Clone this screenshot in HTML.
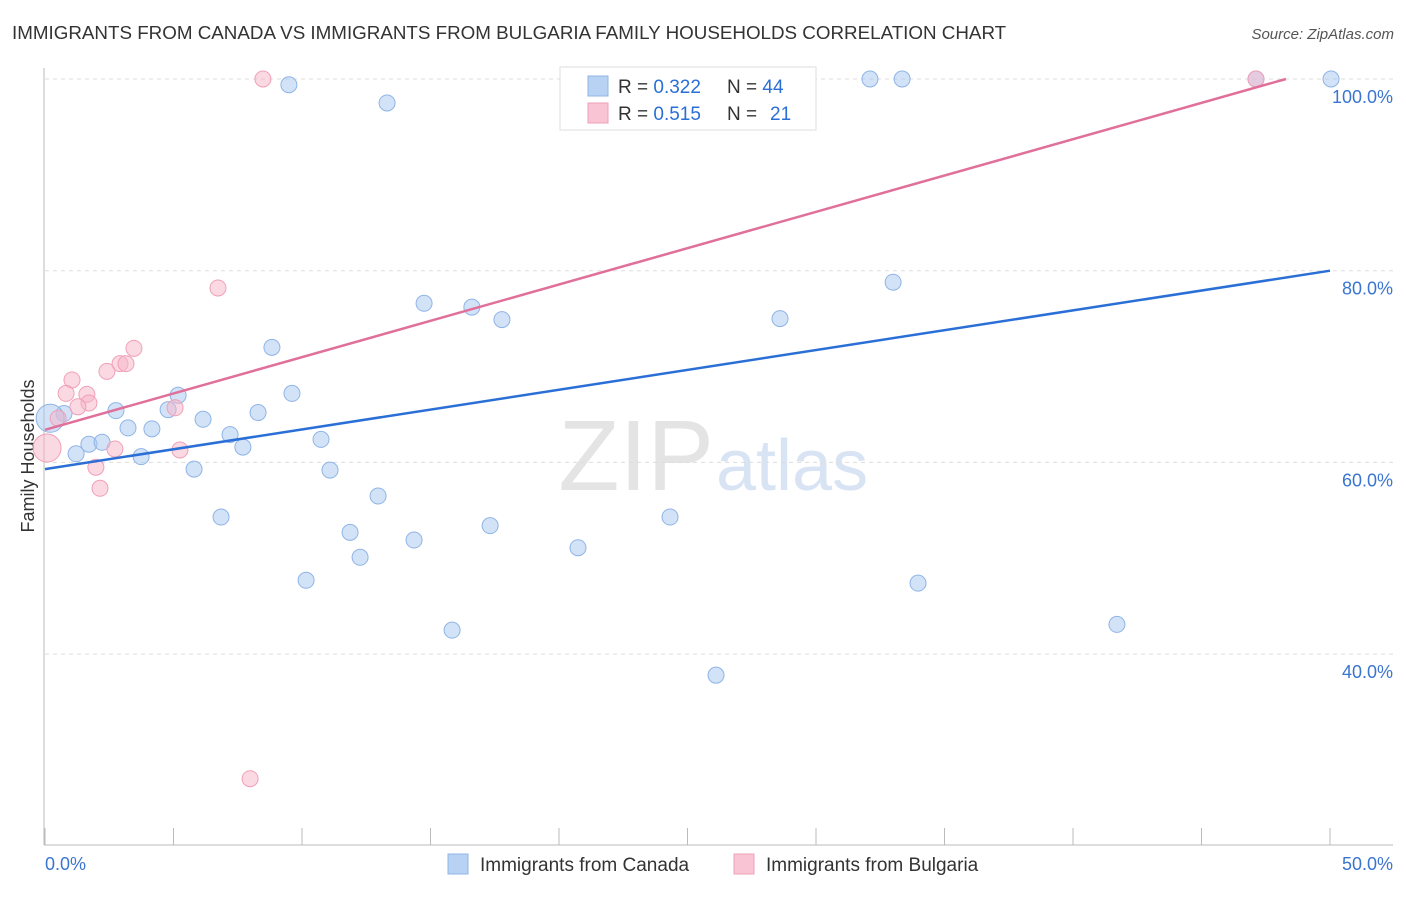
<!DOCTYPE html>
<html><head><meta charset="utf-8"><style>
body{margin:0;background:#fff;font-family:"Liberation Sans",sans-serif}
svg text{font-family:"Liberation Sans",sans-serif}
</style></head><body>
<svg id="c" width="1406" height="892" xmlns="http://www.w3.org/2000/svg">
<text x="12" y="39" font-size="18.8" fill="#333">IMMIGRANTS FROM CANADA VS IMMIGRANTS FROM BULGARIA FAMILY HOUSEHOLDS CORRELATION CHART</text>
<text x="1394" y="39" font-size="15" fill="#555" font-style="italic" text-anchor="end">Source: ZipAtlas.com</text>
<text x="714" y="490" font-size="100" fill="#e4e4e4" text-anchor="end" font-family="Liberation Serif">ZIP</text>
<text x="716" y="490" font-size="72" fill="#d8e4f4">atlas</text>
<text transform="translate(34,456) rotate(-90)" font-size="18" fill="#333" text-anchor="middle">Family Households</text>
<g id="grid"></g><g id="pts"></g><g id="lines"></g>
<g>
<rect x="560" y="67" width="256" height="63" fill="#fff" stroke="#ddd"/>
<rect x="588" y="76" width="20" height="20" fill="#b8d2f4" stroke="#8fb4e6"/>
<rect x="588" y="103" width="20" height="20" fill="#f9c4d4" stroke="#f0a0b8"/>
<text x="618" y="93" font-size="19" fill="#333">R = <tspan fill="#2a6fd6">0.322</tspan></text>
<text x="727" y="93" font-size="19" fill="#333">N = <tspan fill="#2a6fd6">44</tspan></text>
<text x="618" y="120" font-size="19" fill="#333">R = <tspan fill="#2a6fd6">0.515</tspan></text>
<text x="727" y="120" font-size="19" fill="#333">N = <tspan fill="#2a6fd6" x="770">21</tspan></text>
</g>
<g>
<rect x="448" y="854" width="20" height="20" fill="#b8d2f4" stroke="#8fb4e6"/>
<text x="480" y="871" font-size="19" fill="#333">Immigrants from Canada</text>
<rect x="734" y="854" width="20" height="20" fill="#f9c4d4" stroke="#f0a0b8"/>
<text x="766" y="871" font-size="19" fill="#333">Immigrants from Bulgaria</text>
</g>
</svg>
<script>
const yTicks=[100,80,60,40];
const yTickLabels=["100.0%","80.0%","60.0%","40.0%"];
const xTicks=[0,5,10,15,20,25,30,35,40,45,50];
const canadaX=[9.49,13.31,32.1,33.35,50.04,33.0,14.75,16.61,17.78,28.6,8.83,9.61,5.18,0.74,2.76,4.79,6.15,8.29,3.23,4.16,7.2,10.74,1.71,2.22,1.21,3.74,7.7,5.8,11.09,12.96,6.85,11.87,17.32,24.32,12.26,14.36,20.74,10.16,33.97,15.84,41.71,26.11,0.2,47.12];
const canadaY=[99.4,97.5,100,100,100,78.8,76.6,76.2,74.9,75.0,72.0,67.2,67.0,65.1,65.4,65.5,64.5,65.2,63.6,63.5,62.9,62.4,61.9,62.1,60.9,60.6,61.6,59.3,59.2,56.5,54.3,52.7,53.4,54.3,50.1,51.9,51.1,47.7,47.4,42.5,43.1,37.8,64.6,100];
const bulgX=[8.48,47.12,6.73,3.46,2.92,3.15,2.41,1.05,0.82,1.63,1.71,1.28,5.06,0.51,0.08,2.72,5.25,1.98,2.14,7.98];
const bulgY=[100,100,78.2,71.9,70.3,70.3,69.5,68.6,67.2,67.1,66.2,65.8,65.7,64.6,61.5,61.4,61.3,59.5,57.3,27.0];
const canadaTrend=[59.3,80.0];
const bulgTrend=[63.4,0.758];
const X=v=>45+v*25.7, Y=v=>79+(100-v)*9.585;
const NS="http://www.w3.org/2000/svg";
function mk(t,a,p){const e=document.createElementNS(NS,t);for(const k in a)e.setAttribute(k,a[k]);p.appendChild(e);return e;}
const g=document.getElementById('grid');
mk('line',{x1:44,y1:68,x2:44,y2:845,stroke:'#bbb'},g);
mk('line',{x1:44,y1:845,x2:1393,y2:845,stroke:'#bbb'},g);
yTicks.forEach((v,i)=>{
 const l=mk('line',{x1:45,y1:Y(v),x2:1393,y2:Y(v),stroke:'#ddd','stroke-dasharray':'4,4'},g);
 
 
 const t=mk('text',{x:1393,y:Y(v)+24,'font-size':18,fill:'#3a75d0','text-anchor':'end'},g);
 t.textContent=yTickLabels[i];
 
 
});
xTicks.forEach(v=>{
 const l=mk('line',{x1:X(v),y1:828,x2:X(v),y2:845,stroke:'#bbb'},g);
 
 
});
let t=mk('text',{x:45,y:870,'font-size':18,fill:'#3a75d0'},g);t.textContent='0.0%';


t=mk('text',{x:1393,y:870,'font-size':18,fill:'#3a75d0','text-anchor':'end'},g);t.textContent='50.0%';


const p=document.getElementById('pts');
canadaX.forEach((x,i)=>{
 const c=mk('circle',{cx:X(x),cy:Y(canadaY[i]),r:(i==42?14:8),fill:'rgba(168,200,240,0.5)',stroke:'#8fb4e6','stroke-width':1},p);
 
 
});
bulgX.forEach((x,i)=>{
 const c=mk('circle',{cx:X(x),cy:Y(bulgY[i]),r:(i==14?14:8),fill:'rgba(248,180,200,0.5)',stroke:'#f0a0b8','stroke-width':1},p);
 
 
});
const L=document.getElementById('lines');
let ln=mk('line',{x1:X(0),y1:Y(canadaTrend[0]),x2:X(50),y2:Y(canadaTrend[1]),stroke:'#2a6fd6','stroke-width':2.5},L);


const xe=(100-bulgTrend[0])/bulgTrend[1];
ln=mk('line',{x1:X(0),y1:Y(bulgTrend[0]),x2:X(xe),y2:Y(100),stroke:'#e0709a','stroke-width':2.5},L);


</script>
</body></html>
